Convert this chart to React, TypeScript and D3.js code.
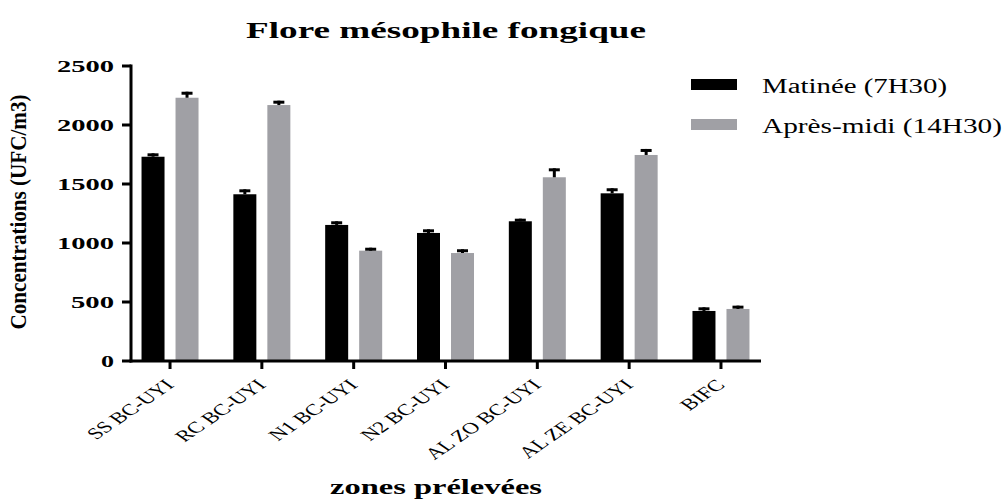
import React from "react";
import * as d3 from "d3";

const categories = ["SS BC-UYI", "RC BC-UYI", "N1 BC-UYI", "N2 BC-UYI", "AL ZO BC-UYI", "AL ZE BC-UYI", "BIFC"];
const matinee = [1731, 1413, 1153, 1085, 1184, 1421, 424];
const matineeErr = [29, 42, 31, 31, 22, 43, 31];
const apresMidi = [2231, 2169, 935, 915, 1557, 1746, 441];
const apresMidiErr = [51, 37, 25, 32, 76, 51, 28];
const yTicks = [0, 500, 1000, 1500, 2000, 2500];
const seriesNames = ["Matinée (7H30)", "Après-midi (14H30)"];
const colors = ["#000000", "#a0a0a5"];

export default function App() {
  const W = 1003, H = 502;
  const x = d3.scalePoint<string>().domain(categories).range([131, 760]).padding(0.425);
  const y = d3.scaleLinear().domain([0, 2500]).range([361, 66]);
  const barW = 23;
  const offs = [-17, 17];
  const series = [
    { vals: matinee, errs: matineeErr },
    { vals: apresMidi, errs: apresMidiErr },
  ];
  const serif = "'Liberation Serif', 'Times New Roman', serif";
  const tickLen: Record<string, number> = { "0": 13, "500": 43, "1000": 57, "1500": 57, "2000": 57, "2500": 57 };
  return (
    <svg width={W} height={H} style={{ position: "absolute", left: 0, top: 0, background: "#fff" }} fontFamily={serif}>
      <rect x={0} y={0} width={W} height={H} fill="#fff" />
      <text x={446} y={38} textAnchor="middle" fontWeight="bold" fontSize={23} textLength={400} lengthAdjust="spacingAndGlyphs">Flore mésophile fongique</text>
      {series.map((s, si) =>
        categories.map((c, i) => {
          const cx = (x(c) as number) + offs[si];
          const top = y(s.vals[i]);
          const et = y(s.vals[i] + s.errs[i]);
          return (
            <g key={si + "-" + i}>
              <rect x={cx - barW / 2} y={top} width={barW} height={361 - top} fill={colors[si]} />
              <line x1={cx} x2={cx} y1={top} y2={et} stroke="#000" strokeWidth={3} />
              <line x1={cx - 5.5} x2={cx + 5.5} y1={et + 1.5} y2={et + 1.5} stroke="#000" strokeWidth={3} />
            </g>
          );
        })
      )}
      <line x1={131} x2={131} y1={64.5} y2={362.5} stroke="#000" strokeWidth={3} />
      <line x1={129.5} x2={761} y1={361} y2={361} stroke="#000" strokeWidth={3} />
      {yTicks.map((t) => (
        <g key={t}>
          <line x1={122} x2={131} y1={y(t)} y2={y(t)} stroke="#000" strokeWidth={3} />
          <text x={114} y={y(t) + 6} textAnchor="end" fontWeight="bold" fontSize={17} textLength={tickLen[String(t)]} lengthAdjust="spacingAndGlyphs">{t}</text>
        </g>
      ))}
      {categories.map((c) => {
        const px = x(c) as number;
        return (
          <g key={c}>
            <line x1={px} x2={px} y1={361} y2={369} stroke="#000" strokeWidth={3} />
            <text transform={`translate(${px + 5},${386}) scale(1.45,1) rotate(-45)`} textAnchor="end" fontSize={16}>{c}</text>
          </g>
        );
      })}
      <text transform={`translate(26,212) rotate(-90)`} textAnchor="middle" fontWeight="bold" fontSize={23} textLength={235} lengthAdjust="spacingAndGlyphs">Concentrations (UFC/m3)</text>
      <text x={436} y={494} textAnchor="middle" fontWeight="bold" fontSize={22} textLength={212} lengthAdjust="spacingAndGlyphs">zones prélevées</text>
      {seriesNames.map((n, i) => (
        <g key={n}>
          <rect x={691} y={79 + i * 40} width={46} height={11} fill={colors[i]} />
          <text x={762} y={93 + i * 40} fontSize={20} textLength={i === 0 ? 185 : 240} lengthAdjust="spacingAndGlyphs">{n}</text>
        </g>
      ))}
    </svg>
  );
}
